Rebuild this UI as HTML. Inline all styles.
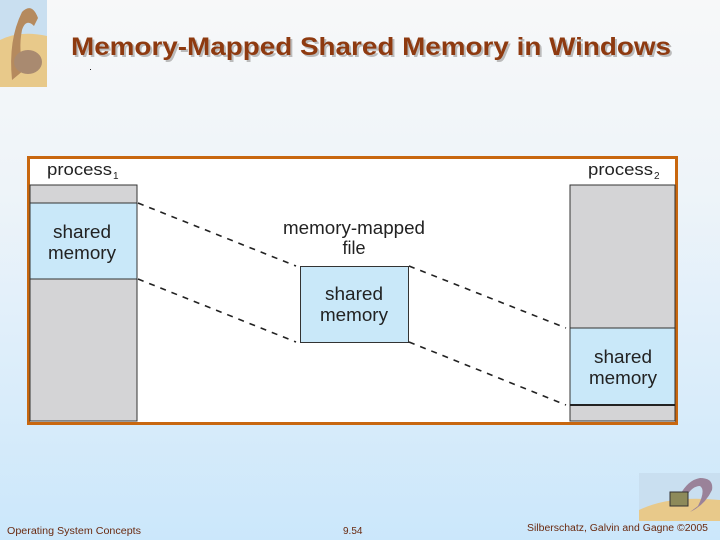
<!DOCTYPE html>
<html><head><meta charset="utf-8"><style>
html,body{margin:0;padding:0;}
body{width:720px;height:540px;overflow:hidden;}
</style></head><body>
<svg width="720" height="540" xmlns="http://www.w3.org/2000/svg" style="font-family:'Liberation Sans',Arial,sans-serif">
<defs>
<linearGradient id="bg" x1="0" y1="0" x2="0" y2="1">
<stop offset="0" stop-color="#f7f8f9"/>
<stop offset="0.35" stop-color="#eef4f9"/>
<stop offset="1" stop-color="#cbe7fb"/>
</linearGradient>
</defs>
<rect width="720" height="540" fill="url(#bg)"/>
<rect x="0" y="0" width="47" height="87" fill="#c9dff0"/>
<path d="M0 40 Q20 30 47 36 L47 87 L0 87Z" fill="#e8c98a"/>
<path d="M12 80 Q8 40 22 12 Q32 2 38 18 L34 26 Q26 18 22 30 Q18 50 24 70 Z" fill="#b58a5e"/>
<ellipse cx="28" cy="62" rx="14" ry="12" fill="#a98a70"/>
<rect x="639" y="473" width="81" height="48" fill="#c9dff0"/>
<path d="M639 510 Q670 495 720 500 L720 521 L639 521Z" fill="#e8c98a"/>
<path d="M690 512 Q705 505 712 490 Q714 478 700 478 Q688 480 680 495 L686 497 Q692 486 700 486 Q706 490 698 506Z" fill="#9a8299"/>
<rect x="670" y="492" width="18" height="14" fill="#8d8a5a" stroke="#333" stroke-width="1"/>
<text x="73" y="57" font-size="25" font-weight="bold" fill="#bbb" textLength="600" lengthAdjust="spacingAndGlyphs">Memory-Mapped Shared Memory in Windows</text>
<text x="71" y="55" font-size="25" font-weight="bold" fill="#8e3a10" textLength="600" lengthAdjust="spacingAndGlyphs">Memory-Mapped Shared Memory in Windows</text>
<rect x="28.5" y="157.5" width="648" height="266" fill="#fff" stroke="#c8670f" stroke-width="3"/>
<rect x="30" y="185" width="107" height="236" fill="#d4d4d6" stroke="#333" stroke-width="1"/>
<rect x="30" y="203" width="107" height="76" fill="#c9e8f9" stroke="#333" stroke-width="1"/>
<rect x="570" y="185" width="105" height="236" fill="#d4d4d6" stroke="#333" stroke-width="1"/>
<rect x="570" y="328" width="105" height="77" fill="#c9e8f9" stroke="#333" stroke-width="1"/>
<line x1="570" y1="405" x2="675" y2="405" stroke="#222" stroke-width="2"/>
<rect x="300.5" y="266.5" width="108" height="76" fill="#c9e8f9" stroke="#333" stroke-width="1"/>
<g stroke="#222" stroke-width="1.6" stroke-dasharray="6,6">
<line x1="138" y1="203" x2="296" y2="266"/>
<line x1="138" y1="279" x2="296" y2="342"/>
<line x1="409" y1="266" x2="566" y2="328"/>
<line x1="409" y1="342" x2="566" y2="405"/>
</g>
<g font-size="18" fill="#222" text-anchor="middle">
<text x="82" y="238" textLength="58" lengthAdjust="spacingAndGlyphs">shared</text>
<text x="82" y="259" textLength="68" lengthAdjust="spacingAndGlyphs">memory</text>
<text x="354" y="300" textLength="58" lengthAdjust="spacingAndGlyphs">shared</text>
<text x="354" y="321" textLength="68" lengthAdjust="spacingAndGlyphs">memory</text>
<text x="623" y="363" textLength="58" lengthAdjust="spacingAndGlyphs">shared</text>
<text x="623" y="384" textLength="68" lengthAdjust="spacingAndGlyphs">memory</text>
<text x="354" y="234" textLength="142" lengthAdjust="spacingAndGlyphs">memory-mapped</text>
<text x="354" y="254">file</text>
</g>
<text x="47" y="175" font-size="17" fill="#222" textLength="65" lengthAdjust="spacingAndGlyphs">process</text>
<text x="113" y="179" font-size="10" fill="#222">1</text>
<text x="588" y="175" font-size="17" fill="#222" textLength="65" lengthAdjust="spacingAndGlyphs">process</text>
<text x="654" y="179" font-size="10" fill="#222">2</text>
<g font-size="10" fill="#6a2a10">
<text x="7" y="534" textLength="134" lengthAdjust="spacingAndGlyphs">Operating System Concepts</text>
<text x="343" y="534">9.54</text>
<text x="527" y="531" textLength="181" lengthAdjust="spacingAndGlyphs">Silberschatz, Galvin and Gagne ©2005</text>
</g>
<rect x="90" y="69" width="1" height="1" fill="#222"/>
</svg>
</body></html>
